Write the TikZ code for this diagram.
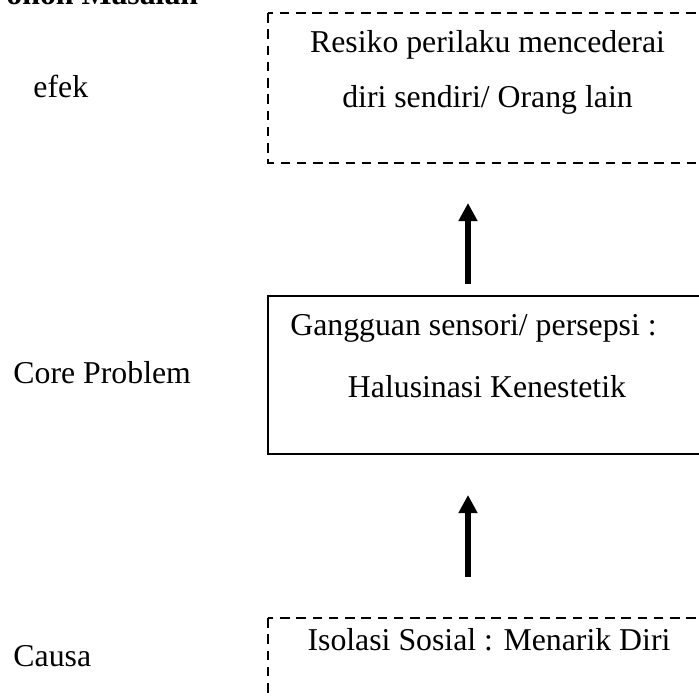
\documentclass[tikz,border=0pt]{standalone}
\usepackage{fontspec}
\setmainfont{Liberation Serif}
\usetikzlibrary{arrows.meta, positioning}

\tikzset{
  teks/.style={inner sep=0pt, font=\fontsize{13.3}{16}\selectfont},
  judul/.style={inner sep=0pt, font=\fontsize{13.3}{16}\selectfont\bfseries},
  kotakputus/.style={draw=black, line width=0.6pt, dash pattern=on 4pt off 2.8pt},
  kotakpenuh/.style={draw=black, line width=0.85pt},
  panah/.style={line width=2.4pt, -{Triangle[width=7.6pt, length=7.6pt]}}
}

\begin{document}
\begin{tikzpicture}[x=0.4184pt, y=-0.4184pt]
          \useasboundingbox (0,0) rectangle (699,698);
          % Judul (terpotong)
          \node[judul, anchor=base west] (pohon) at (6,4) {ohon Masalah};
          % Label kiri
          \node[teks, anchor=base west] (efek) at (33,97) {efek};
          \node[teks, anchor=base west] (core) at (13,383) {Core Problem};
          \node[teks, anchor=base west] (causa) at (13,666) {Causa};
          % Kotak efek
          \draw[kotakputus] (268,13) rectangle (730,163);
          \node[teks, anchor=base] (resiko) at (487.5,52) {Resiko perilaku mencederai};
          \node[teks, anchor=base] (diri) at (487.5,107) {diri sendiri/ Orang lain};
          % Kotak core problem
          \draw[kotakpenuh] (268,296) rectangle (730,454);
          \node[teks, anchor=base] (gangguan) at (473.5,335) {Gangguan sensori/ persepsi :};
          \node[teks, anchor=base] (halusinasi) at (487,397) {Halusinasi Kenestetik};
          % Kotak causa
          \draw[kotakputus] (268,618) rectangle (730,760);
          \node[teks, anchor=base] (isolasi) at (489,650) {Isolasi Sosial : Menarik Diri};
          % Panah
          \coordinate (p1bawah) at (468,284);
          \coordinate (p1atas) at (468,203);
          \coordinate (p2bawah) at (468,577);
          \coordinate (p2atas) at (468,495);
          \draw[panah] (p1bawah) -- (p1atas);
          \draw[panah] (p2bawah) -- (p2atas);
        \end{tikzpicture}
\end{document}
